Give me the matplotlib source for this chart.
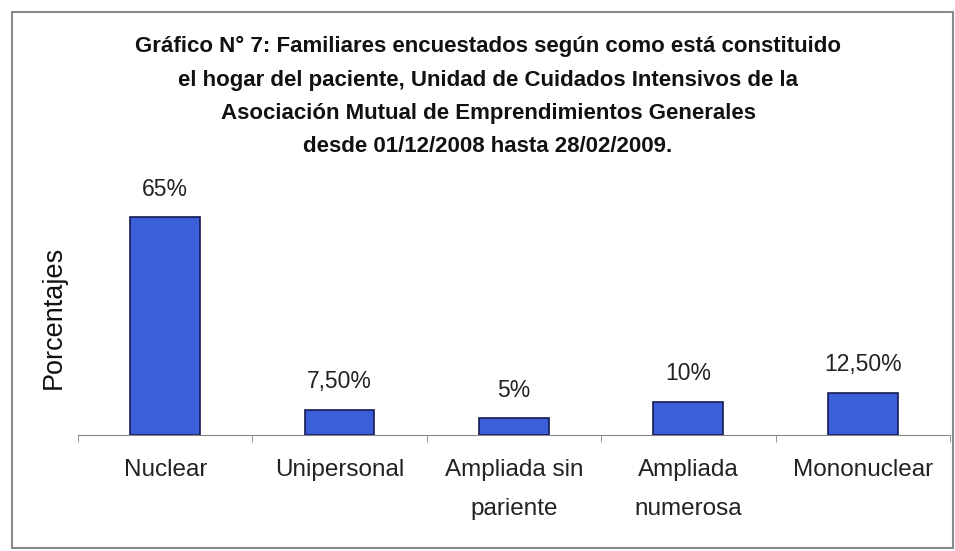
import matplotlib.pyplot as plt
from matplotlib.patches import Rectangle
import numpy as np

categorias = ["Nuclear", "Unipersonal", "Ampliada sin\npariente", "Ampliada\nnumerosa", "Mononuclear"]
porcentajes = [65, 7.5, 5, 10, 12.5]
etiquetas = ["65%", "7,50%", "5%", "10%", "12,50%"]

titulo = ("Gráfico N° 7: Familiares encuestados según como está constituido\n"
          "el hogar del paciente, Unidad de Cuidados Intensivos de la\n"
          "Asociación Mutual de Emprendimientos Generales\n"
          "desde 01/12/2008 hasta 28/02/2009.")

plt.rcParams['font.family'] = ['Liberation Sans', 'DejaVu Sans']

fig = plt.figure(figsize=(9.55, 5.51), dpi=100)
ax = fig.add_axes([0.0817, 0.2105, 0.913, 0.4256])

# marco del gráfico
fig.patches.append(Rectangle((0.013, 0.005), 0.985, 0.973, transform=fig.transFigure,
                             fill=False, edgecolor="#8a8a8a", linewidth=1.5))

x = np.arange(len(categorias))
bars = ax.bar(x, porcentajes, width=0.4, color="#3a5fd9", edgecolor="#151a55", linewidth=1.2)
for b, t in zip(bars, etiquetas):
    ax.annotate(t, (b.get_x() + b.get_width() / 2, b.get_height()), xytext=(0, 12),
                textcoords="offset points", ha="center", va="bottom", fontsize=16.5, color="#222")

ax.set_xlim(-0.5, len(categorias) - 0.5)
ax.set_ylim(0, 70)
ax.set_xticks(x)
ax.set_xticklabels(categorias, fontsize=17.5, color="#222", linespacing=2.0)
ax.set_xticks(np.arange(-0.5, len(categorias)), minor=True)
ax.tick_params(axis="x", which="major", length=0, pad=17)
ax.tick_params(axis="x", which="minor", length=5, color="#888")
ax.set_yticks([])
for s in ["top", "right", "left"]:
    ax.spines[s].set_visible(False)
ax.spines["bottom"].set_color("#888")
ax.set_ylabel("Porcentajes", fontsize=19.5, labelpad=8, color="#111")

fig.text(0.511, 0.934, titulo, ha="center", va="top", fontsize=16, fontweight="bold",
         linespacing=1.77, color="#111")

fig.savefig("out.png", dpi=100)
